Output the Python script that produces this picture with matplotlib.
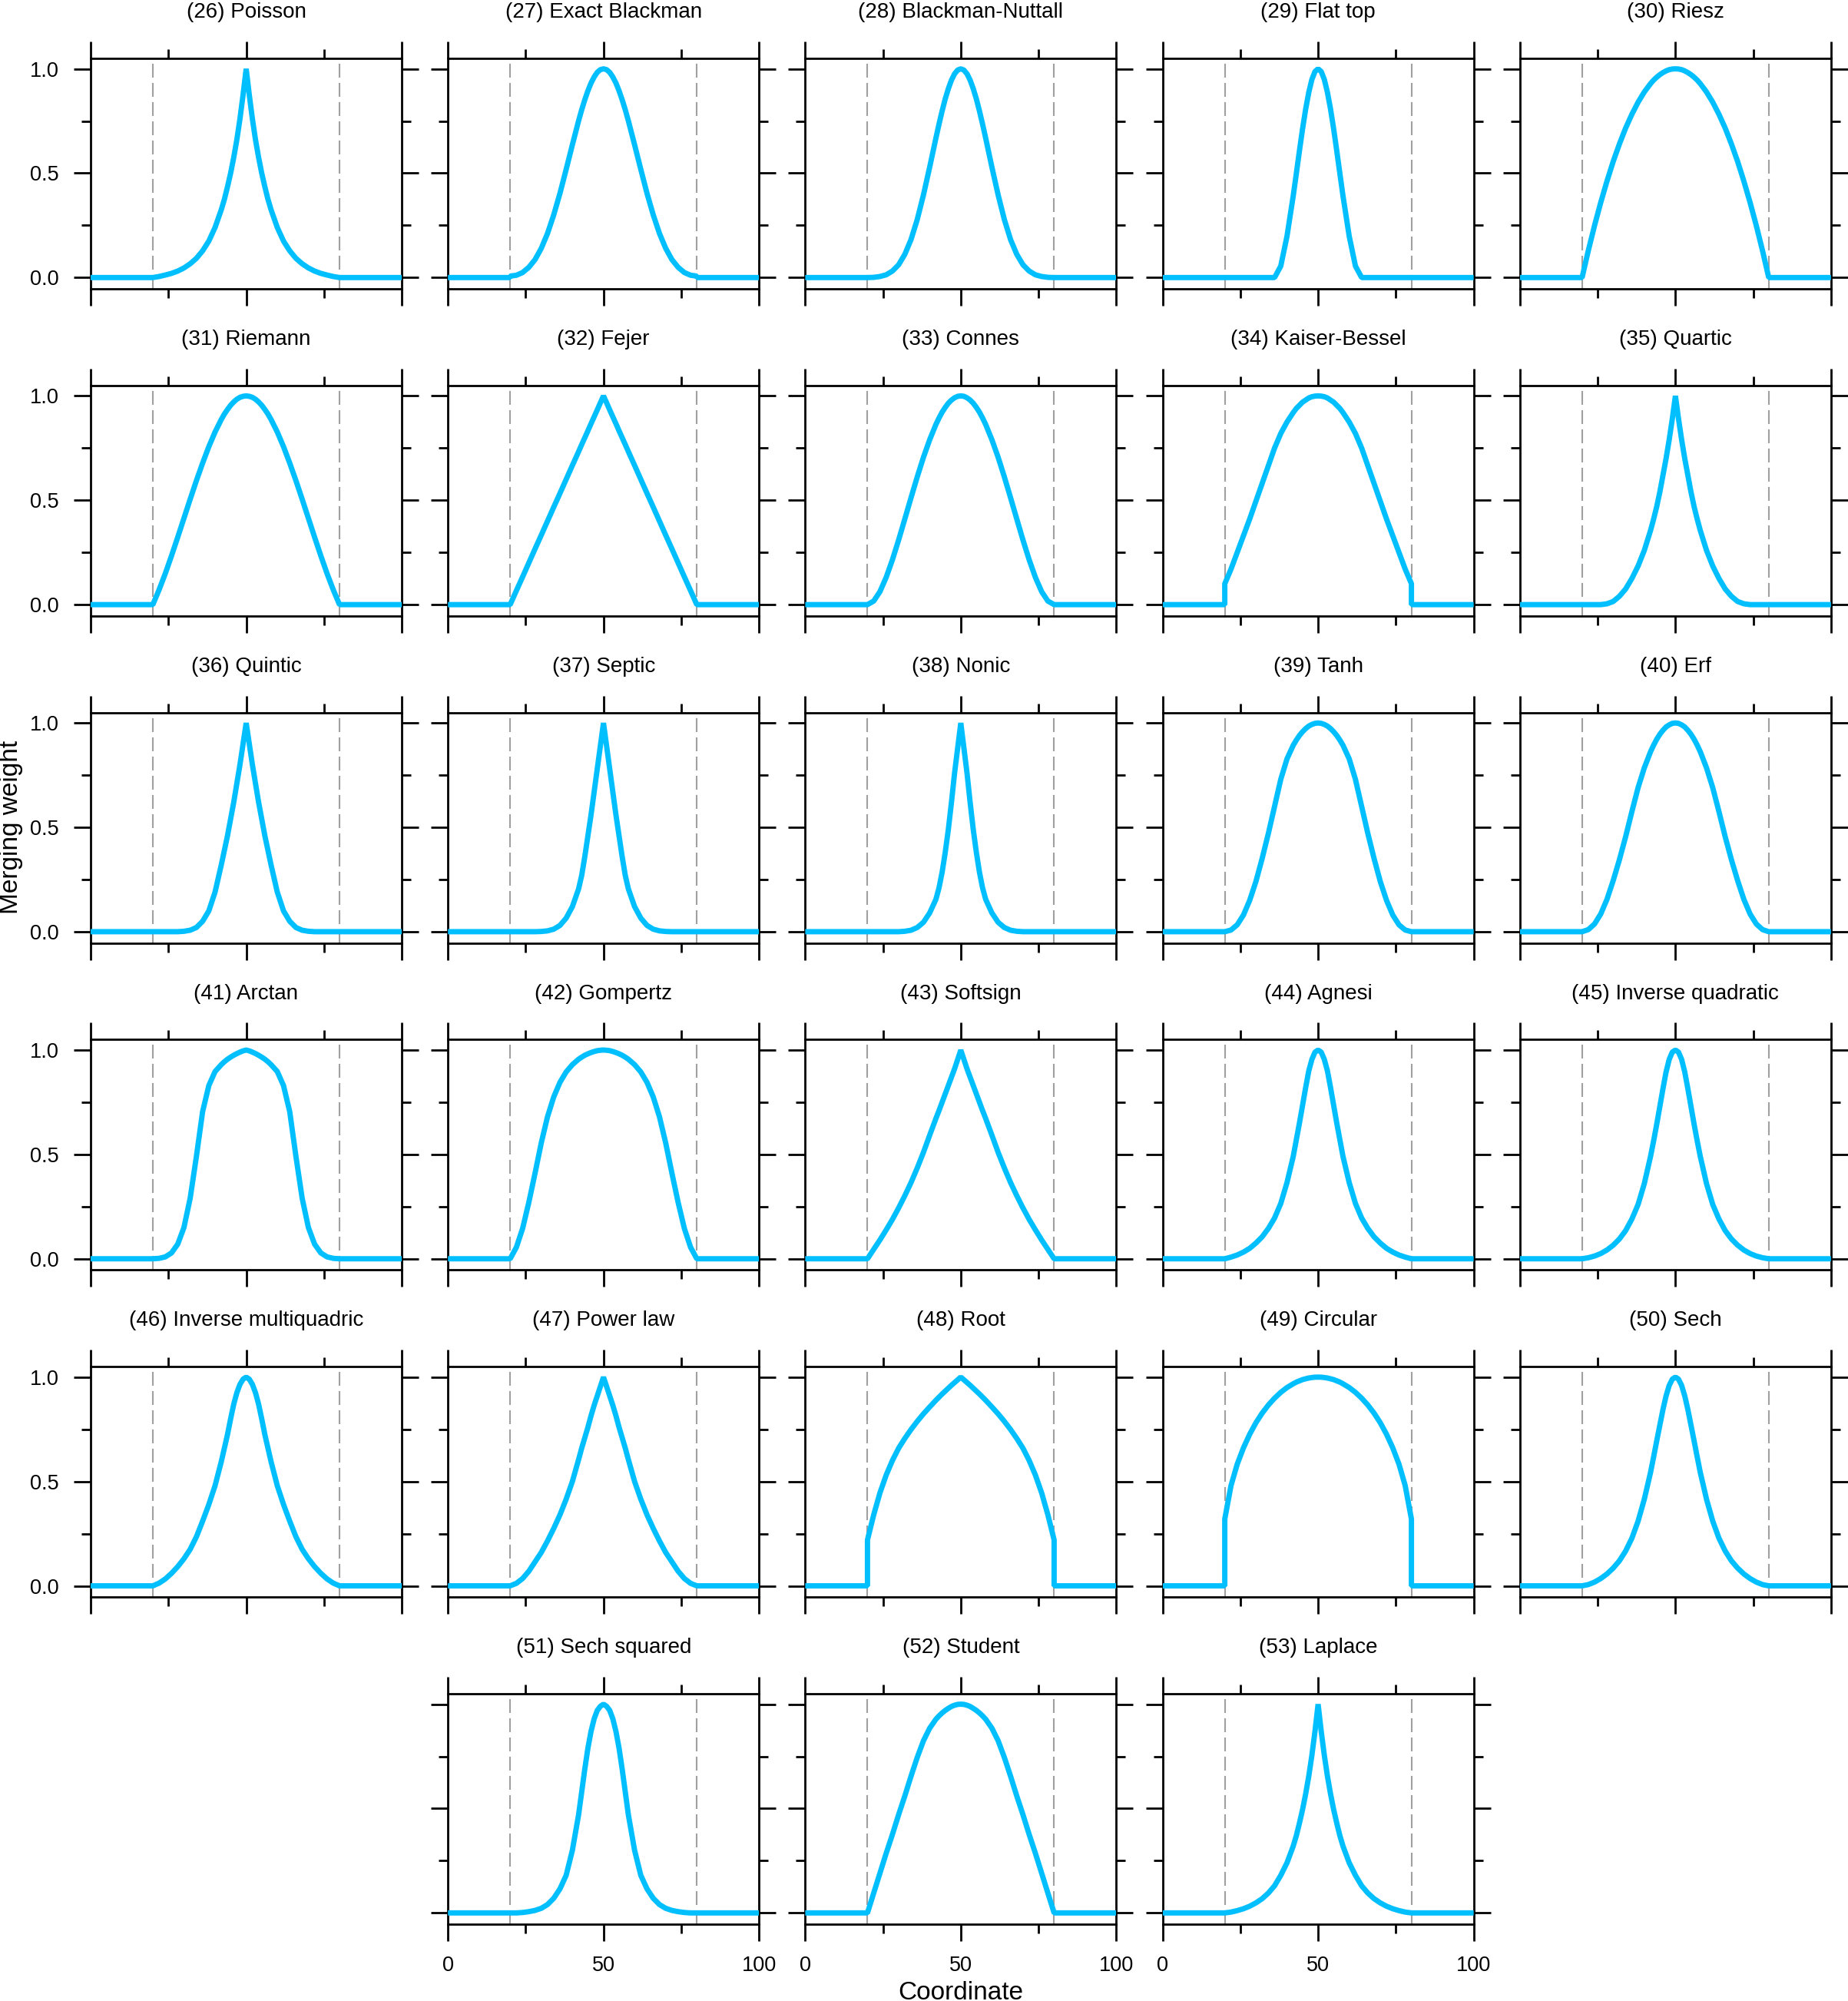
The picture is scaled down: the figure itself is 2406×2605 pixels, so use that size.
import matplotlib
matplotlib.use("Agg")
import matplotlib.pyplot as plt
from matplotlib.ticker import MultipleLocator, FormatStrFormatter

plt.rcParams["font.family"] = ["Liberation Sans", "DejaVu Sans"]
plt.rcParams["lines.scale_dashes"] = False

# distance from the window centre at which each weight profile was read
offsets = [0, 1, 2, 3, 4, 5, 6, 7, 8, 10, 12, 14, 16, 18, 20, 22, 24, 26, 28, 30]
centre = 50
edges = [20, 80]

titles = [
    "(26) Poisson", "(27) Exact Blackman", "(28) Blackman-Nuttall", "(29) Flat top", "(30) Riesz",
    "(31) Riemann", "(32) Fejer", "(33) Connes", "(34) Kaiser-Bessel", "(35) Quartic",
    "(36) Quintic", "(37) Septic", "(38) Nonic", "(39) Tanh", "(40) Erf",
    "(41) Arctan", "(42) Gompertz", "(43) Softsign", "(44) Agnesi", "(45) Inverse quadratic",
    "(46) Inverse multiquadric", "(47) Power law", "(48) Root", "(49) Circular", "(50) Sech",
    "(51) Sech squared", "(52) Student", "(53) Laplace",
]

# weights at the offsets above (the windows are symmetric about the centre)
poisson = [1.0, 0.875, 0.76, 0.66, 0.575, 0.50, 0.435, 0.375, 0.325, 0.24, 0.175, 0.128, 0.092, 0.066, 0.046, 0.031, 0.02, 0.012, 0.005, 0.0]
exact_blackman = [1.0, 0.996, 0.983, 0.961, 0.932, 0.895, 0.852, 0.804, 0.751, 0.636, 0.518, 0.403, 0.300, 0.211, 0.140, 0.086, 0.049, 0.024, 0.011, 0.007]
blackman_nuttall = [1.0, 0.994, 0.976, 0.946, 0.905, 0.856, 0.798, 0.735, 0.668, 0.529, 0.396, 0.278, 0.182, 0.111, 0.061, 0.031, 0.013, 0.005, 0.001, 0.0]
flat_top = [1.0, 0.987, 0.949, 0.887, 0.807, 0.712, 0.607, 0.498, 0.391, 0.198, 0.055, 0.0, 0.0, 0.0, 0.0, 0.0, 0.0, 0.0, 0.0, 0.0]
riesz = [1.0, 0.999, 0.996, 0.99, 0.982, 0.972, 0.96, 0.946, 0.929, 0.889, 0.84, 0.782, 0.716, 0.64, 0.556, 0.462, 0.36, 0.249, 0.129, 0.0]
riemann = [1.0, 0.998, 0.993, 0.984, 0.971, 0.955, 0.935, 0.913, 0.887, 0.827, 0.757, 0.678, 0.594, 0.505, 0.414, 0.323, 0.234, 0.149, 0.071, 0.0]
fejer = [1.0, 0.967, 0.933, 0.9, 0.867, 0.833, 0.8, 0.767, 0.733, 0.667, 0.6, 0.533, 0.467, 0.4, 0.333, 0.267, 0.2, 0.133, 0.067, 0.0]
connes = [1.0, 0.998, 0.991, 0.980, 0.965, 0.945, 0.922, 0.894, 0.863, 0.790, 0.706, 0.612, 0.512, 0.410, 0.309, 0.214, 0.130, 0.062, 0.017, 0.0]
kaiser_bessel = [1.0, 0.999, 0.996, 0.99, 0.98, 0.97, 0.955, 0.94, 0.92, 0.875, 0.82, 0.75, 0.665, 0.58, 0.495, 0.41, 0.33, 0.25, 0.17, 0.10]
quartic = [1.0, 0.89, 0.79, 0.70, 0.62, 0.54, 0.47, 0.41, 0.355, 0.26, 0.185, 0.125, 0.075, 0.04, 0.015, 0.004, 0.0, 0.0, 0.0, 0.0]
quintic = [1.0, 0.90, 0.80, 0.71, 0.62, 0.54, 0.46, 0.39, 0.32, 0.19, 0.10, 0.05, 0.02, 0.007, 0.002, 0.0, 0.0, 0.0, 0.0, 0.0]
septic = [1.0, 0.89, 0.78, 0.67, 0.56, 0.46, 0.36, 0.27, 0.205, 0.12, 0.065, 0.03, 0.012, 0.004, 0.001, 0.0, 0.0, 0.0, 0.0, 0.0]
nonic = [1.0, 0.88, 0.76, 0.62, 0.49, 0.38, 0.285, 0.21, 0.155, 0.09, 0.045, 0.02, 0.007, 0.002, 0.0, 0.0, 0.0, 0.0, 0.0, 0.0]
tanh = [1.0, 0.998, 0.993, 0.985, 0.973, 0.958, 0.94, 0.918, 0.893, 0.828, 0.73, 0.60, 0.47, 0.35, 0.24, 0.15, 0.08, 0.033, 0.008, 0.0]
erf = [1.0, 0.998, 0.991, 0.981, 0.965, 0.946, 0.922, 0.894, 0.862, 0.785, 0.69, 0.575, 0.455, 0.345, 0.245, 0.155, 0.085, 0.037, 0.01, 0.0]
arctan = [1.0, 0.996, 0.99, 0.983, 0.975, 0.966, 0.956, 0.944, 0.93, 0.897, 0.83, 0.705, 0.49, 0.29, 0.15, 0.07, 0.028, 0.009, 0.002, 0.0]
gompertz = [1.0, 0.999, 0.997, 0.993, 0.988, 0.982, 0.975, 0.966, 0.956, 0.93, 0.895, 0.845, 0.775, 0.68, 0.555, 0.41, 0.27, 0.145, 0.055, 0.0]
softsign = [1.0, 0.955, 0.91, 0.87, 0.83, 0.79, 0.75, 0.71, 0.672, 0.592, 0.51, 0.435, 0.365, 0.302, 0.243, 0.188, 0.138, 0.09, 0.045, 0.0]
agnesi = [1.0, 0.99, 0.955, 0.90, 0.82, 0.735, 0.65, 0.57, 0.49, 0.365, 0.265, 0.195, 0.145, 0.105, 0.075, 0.05, 0.032, 0.018, 0.008, 0.0]
inverse_quadratic = [1.0, 0.99, 0.955, 0.895, 0.815, 0.73, 0.645, 0.565, 0.49, 0.36, 0.26, 0.19, 0.135, 0.095, 0.065, 0.042, 0.025, 0.013, 0.005, 0.0]
inverse_multiquadric = [1.0, 0.99, 0.965, 0.925, 0.87, 0.80, 0.725, 0.66, 0.595, 0.48, 0.39, 0.31, 0.235, 0.175, 0.13, 0.092, 0.06, 0.033, 0.013, 0.0]
power_law = [1.0, 0.955, 0.91, 0.865, 0.815, 0.76, 0.71, 0.66, 0.605, 0.50, 0.415, 0.34, 0.275, 0.215, 0.16, 0.115, 0.07, 0.035, 0.012, 0.0]
root = [1.0, 0.987, 0.974, 0.961, 0.947, 0.933, 0.919, 0.904, 0.889, 0.857, 0.824, 0.788, 0.749, 0.706, 0.659, 0.60, 0.53, 0.445, 0.34, 0.22]
circular = [1.0, 0.9995, 0.998, 0.9956, 0.992, 0.988, 0.982, 0.976, 0.968, 0.95, 0.927, 0.899, 0.866, 0.827, 0.781, 0.726, 0.661, 0.583, 0.48, 0.32]
sech = [1.0, 0.99, 0.96, 0.91, 0.845, 0.77, 0.695, 0.618, 0.543, 0.415, 0.31, 0.228, 0.167, 0.12, 0.085, 0.057, 0.035, 0.018, 0.006, 0.0]
sech_squared = [1.0, 0.99, 0.97, 0.93, 0.87, 0.79, 0.69, 0.58, 0.47, 0.30, 0.18, 0.115, 0.07, 0.04, 0.022, 0.012, 0.006, 0.002, 0.0, 0.0]
student = [1.0, 0.999, 0.995, 0.989, 0.98, 0.97, 0.958, 0.944, 0.928, 0.885, 0.825, 0.745, 0.655, 0.56, 0.47, 0.375, 0.285, 0.19, 0.095, 0.0]
laplace = [1.0, 0.87, 0.755, 0.655, 0.57, 0.495, 0.43, 0.37, 0.32, 0.24, 0.18, 0.13, 0.095, 0.068, 0.048, 0.032, 0.02, 0.011, 0.004, 0.0]

profiles = [
    poisson, exact_blackman, blackman_nuttall, flat_top, riesz,
    riemann, fejer, connes, kaiser_bessel, quartic,
    quintic, septic, nonic, tanh, erf,
    arctan, gompertz, softsign, agnesi, inverse_quadratic,
    inverse_multiquadric, power_law, root, circular, sech,
    sech_squared, student, laplace,
]

W, H = 2406, 2605
fig = plt.figure(figsize=(W / 100, H / 100), dpi=100)

# panel geometry in pixels
pw, ph = 405, 300
col_x0, col_step = 118, 465.2
row_y0, row_step = 76, 425.8

blue = "#00bfff"

left_x = [centre - d for d in offsets[::-1]]
right_x = [centre + d for d in offsets[1:]]
xs = [0, edges[0]] + left_x + right_x + [edges[1], 100]

for i, (title, prof) in enumerate(zip(titles, profiles)):
    if i < 25:
        row, col = divmod(i, 5)
    else:
        row, col = 5, i - 25 + 1
    left = (col_x0 + col * col_step) / W
    bottom = 1 - (row_y0 + row * row_step + ph) / H
    ax = fig.add_axes([left, bottom, pw / W, ph / H])

    ys = [0, 0] + prof[::-1] + prof[1:] + [0, 0]

    for e in edges:
        ax.axvline(e, color="#a0a0a0", lw=1.5, dashes=(13, 5), zorder=1)
    ax.plot(xs, ys, color=blue, lw=5, solid_joinstyle="bevel",
            solid_capstyle="butt", zorder=3)

    ax.set_xlim(0, 100)
    ax.set_ylim(-0.054, 1.05)
    ax.xaxis.set_major_locator(MultipleLocator(50))
    ax.xaxis.set_minor_locator(MultipleLocator(25))
    ax.yaxis.set_major_locator(MultipleLocator(0.5))
    ax.yaxis.set_minor_locator(MultipleLocator(0.25))
    ax.yaxis.set_major_formatter(FormatStrFormatter("%.1f"))
    ax.tick_params(which="both", direction="out", top=True, right=True,
                   width=2, labelsize=19.5, pad=14,
                   labelbottom=(row == 5), labelleft=(col == 0))
    ax.tick_params(which="major", length=15.8)
    ax.tick_params(which="minor", length=8.6)
    for sp in ax.spines.values():
        sp.set_linewidth(2)

    ax.annotate(title, xy=(0.5, 1), xycoords="axes fraction",
                xytext=(0, 38), textcoords="offset points",
                ha="center", va="baseline", fontsize=20)

fig.text(23.5 / W, 1 - 1077 / H, "Merging weight", rotation=90,
         rotation_mode="anchor", ha="center", va="baseline", fontsize=24)
fig.text((col_x0 + 2 * col_step + pw / 2) / W, 2 / H, "Coordinate",
         ha="center", va="baseline", fontsize=24)

fig.savefig("out.png", dpi=100)
